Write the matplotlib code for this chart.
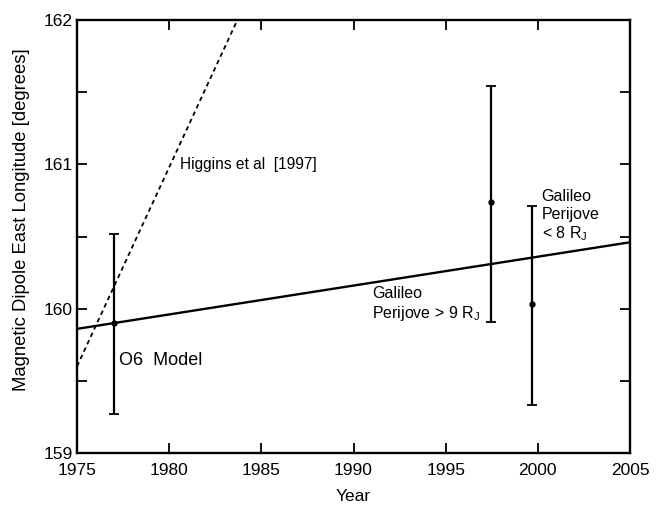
import numpy as np
import matplotlib
matplotlib.use("Agg")
from matplotlib import pyplot as plt

plt.rcParams['font.family'] = ['Liberation Sans', 'DejaVu Sans']

# fitted lines (end points)
o6_years = [1975, 2005]
o6_lon = [159.86, 160.46]
higgins_years = [1975, 1983.7]
higgins_lon = [159.60, 162.0]

# measurements with error bars
meas_years = [1977.0, 1997.45, 1999.7]
meas_lon = [159.90, 160.74, 160.03]
meas_low = [159.27, 159.91, 159.33]
meas_high = [160.52, 161.54, 160.71]

fig = plt.figure(figsize=(6.6, 5.05), dpi=100)
ax = fig.add_axes([77 / 660, 1 - 453 / 505, 553 / 660, 433 / 505])

ax.plot(o6_years, o6_lon, color='black', lw=1.7)
ax.plot(higgins_years, higgins_lon, color='black', lw=1.3, linestyle=(0, (2.5, 2)))

yerr = [np.array(meas_lon) - np.array(meas_low), np.array(meas_high) - np.array(meas_lon)]
ax.errorbar(meas_years, meas_lon, yerr=yerr, fmt='o', color='black', ms=3.5,
            elinewidth=1.6, capsize=3.5, capthick=1.3)

ax.text(1980.6, 161.0, "Higgins et al  [1997]", fontsize=11.2, va='center', ha='left')
ax.text(1977.3, 159.64, "O6  Model", fontsize=13, va='center', ha='left')
ax.text(1991.0, 160.03, "Galileo\nPerijove > 9 R$_\\mathregular{J}$", fontsize=11.5,
        va='center', ha='left', linespacing=1.2)
ax.text(2000.2, 160.64, "Galileo\nPerijove\n< 8 R$_\\mathregular{J}$", fontsize=11.5,
        va='center', ha='left', linespacing=1.2)

ax.set_xlim(1975, 2005)
ax.set_ylim(159, 162)
ax.set_xticks(range(1975, 2006, 5))
ax.set_yticks([159, 160, 161, 162])
ax.set_yticks([159.5, 160.5, 161.5], minor=True)
ax.tick_params(which='both', direction='in', top=True, right=True, width=1.3, labelsize=12.5)
ax.tick_params(which='major', length=7)
ax.tick_params(which='minor', length=7)
ax.tick_params(axis='x', pad=7)
ax.tick_params(axis='y', pad=3)
for s in ax.spines.values():
    s.set_linewidth(1.7)

ax.set_xlabel("Year", fontsize=12.5, labelpad=8)
fig.text(22 / 660, 1 - 220 / 505, "Magnetic Dipole East Longitude [degrees]",
         fontsize=13.3, rotation=90, ha='center', va='center')

fig.savefig("out.png", dpi=100)
